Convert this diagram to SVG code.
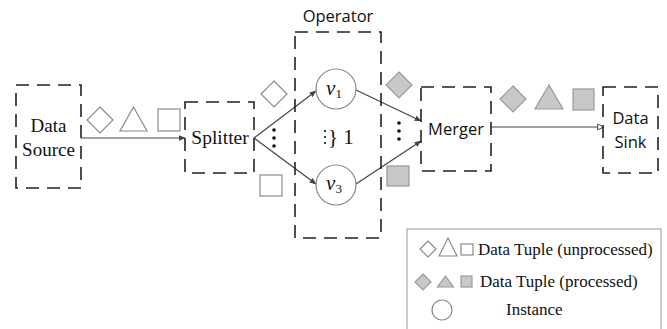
<svg xmlns="http://www.w3.org/2000/svg" width="667" height="329" viewBox="0 0 667 329">
<style>
.box{fill:none;stroke:#222;stroke-width:1.6;stroke-dasharray:13 8}
.serif{font-family:"Liberation Serif","Times New Roman",serif;fill:#111}
.sans{font-family:"Open Sans","Liberation Sans",sans-serif;fill:#111}
.u{fill:#fff;stroke:#8a8a8a;stroke-width:1.2}
.p{fill:#c8c8c8;stroke:#999;stroke-width:1.2}
.conn{stroke:#444;stroke-width:1.2;fill:none}
.dot{fill:#111}
</style>
<defs>
<marker id="ah" viewBox="0 0 10 10" refX="9" refY="5" markerWidth="7" markerHeight="7" orient="auto" markerUnits="userSpaceOnUse">
<path d="M0,1 L10,5 L0,9 Z" fill="#444"/>
</marker>
<marker id="ao" viewBox="0 0 10 10" refX="9" refY="5" markerWidth="8" markerHeight="8" orient="auto" markerUnits="userSpaceOnUse">
<path d="M1,1.5 L9,5 L1,8.5 Z" fill="#fff" stroke="#444" stroke-width="1.2"/>
</marker>
</defs>

<g id="connectors">
<line class="conn" x1="81" y1="138" x2="185" y2="138" marker-end="url(#ah)"/>
<line class="conn" x1="254" y1="138" x2="316" y2="91" marker-end="url(#ah)"/>
<line class="conn" x1="254" y1="138" x2="316" y2="184" marker-end="url(#ah)"/>
<line class="conn" x1="356" y1="90" x2="421" y2="121" marker-end="url(#ah)"/>
<line class="conn" x1="356" y1="184" x2="421" y2="141" marker-end="url(#ah)"/>
<line class="conn" x1="491" y1="127" x2="604" y2="127" marker-end="url(#ao)"/>
</g>

<g id="data-source">
<rect class="box" x="16" y="85" width="65" height="103"/>
<text class="serif" x="48.5" y="132" font-size="19" text-anchor="middle">Data</text>
<text class="serif" x="48.5" y="156" font-size="19" text-anchor="middle">Source</text>
</g>

<g id="tuples-in">
<polygon class="u" points="100,107 113,120 100,133 87,120"/>
<polygon class="u" points="133.5,107 147,131 120,131"/>
<rect class="u" x="158" y="109" width="22" height="22"/>
</g>

<g id="splitter">
<rect class="box" x="185" y="102" width="69" height="71"/>
<text class="serif" x="220" y="144" font-size="19.5" text-anchor="middle">Splitter</text>
</g>

<g id="splitter-tuples">
<polygon class="u" points="274,81 287,94 274,107 261,94"/>
<rect class="u" x="260" y="175" width="22" height="21"/>
<circle class="dot" cx="274" cy="130" r="1.8"/>
<circle class="dot" cx="274" cy="138" r="1.8"/>
<circle class="dot" cx="274" cy="146" r="1.8"/>
</g>

<g id="operator">
<rect class="box" x="295" y="32" width="86" height="206"/>
<text class="sans" x="338" y="22" font-size="16.5" text-anchor="middle">Operator</text>
<circle class="dot" cx="325" cy="131" r="1.1"/>
<circle class="dot" cx="325" cy="137" r="1.1"/>
<circle class="dot" cx="325" cy="143" r="1.1"/>
<text class="serif" x="328" y="144" font-size="21">} 1</text>
</g>

<g id="v1">
<circle cx="336" cy="89" r="20" fill="#fff" stroke="#888" stroke-width="1.2"/>
<text class="serif" x="334" y="95" font-size="21" font-style="italic" text-anchor="middle">v<tspan font-size="13" font-style="normal" dy="3">1</tspan></text>
</g>

<g id="v3">
<circle cx="336" cy="185" r="20" fill="#fff" stroke="#888" stroke-width="1.2"/>
<text class="serif" x="334" y="190" font-size="21" font-style="italic" text-anchor="middle">v<tspan font-size="13" font-style="normal" dy="3">3</tspan></text>
</g>

<g id="operator-tuples">
<polygon class="p" points="399,72 412,85 399,98 386,85"/>
<rect class="p" x="387" y="166" width="22" height="20"/>
<circle class="dot" cx="399" cy="123" r="1.8"/>
<circle class="dot" cx="399" cy="131" r="1.8"/>
<circle class="dot" cx="399" cy="139" r="1.8"/>
</g>

<g id="merger">
<rect class="box" x="421" y="87" width="70" height="84"/>
<text class="sans" x="456" y="135" font-size="16.5" text-anchor="middle">Merger</text>
</g>

<g id="tuples-out">
<polygon class="p" points="513,86 526,99 513,112 500,99"/>
<polygon class="p" points="549,85 563,109 535,109"/>
<rect class="p" x="573" y="89" width="21" height="21"/>
</g>

<g id="data-sink">
<rect class="box" x="603" y="87" width="55" height="86"/>
<text class="sans" x="630.5" y="124" font-size="16.5" text-anchor="middle">Data</text>
<text class="sans" x="630.5" y="148" font-size="16.5" text-anchor="middle">Sink</text>
</g>

<g id="legend">
<rect x="407" y="229" width="254" height="105" fill="#fff" stroke="#999" stroke-width="1"/>
<polygon class="u" points="428,241 436,249 428,257 420,249"/>
<polygon class="u" points="448,238 457,256 439,256"/>
<rect class="u" x="461" y="244" width="12" height="11"/>
<text class="serif" x="478" y="255" font-size="17">Data Tuple (unprocessed)</text>
<polygon class="p" points="423,274 431,282 423,290 415,282"/>
<polygon class="p" points="445.5,276 453.5,287 437.5,287"/>
<rect class="p" x="461" y="276" width="11" height="11"/>
<text class="serif" x="480" y="287" font-size="17">Data Tuple (processed)</text>
<circle cx="442" cy="310" r="10" fill="#fff" stroke="#888" stroke-width="1.2"/>
<text class="serif" x="506" y="315" font-size="17">Instance</text>
</g>
</svg>
